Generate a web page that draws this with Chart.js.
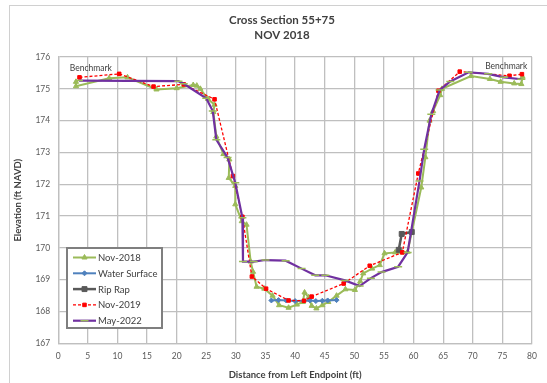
<!DOCTYPE html>
<html>
<head>
<meta charset="utf-8">
<script src="https://cdn.jsdelivr.net/npm/chart.js@4/dist/chart.umd.min.js"></script>
<style>
  html, body { margin: 0; padding: 0; background: #fff; overflow: hidden; }
  #wrap { position: relative; width: 547px; height: 383px; }
</style>
</head>
<body>
<div id="wrap"><canvas id="chart" width="547" height="383"></canvas></div>
<script>
const titleLines = ["Cross Section 55+75", "NOV 2018"];
const xTitle = "Distance from Left Endpoint (ft)";
const yTitle = "Elevation (ft NAVD)";
const xRange = [0, 80, 5];
const yRange = [167, 176, 1];

const seriesNames = ["Nov-2018", "Water Surface", "Rip Rap", "Nov-2019", "May-2022"];

// [distance ft, elevation ft]
const nov2018 = [
  [3.0, 175.22], [3.0, 175.08], [8.6, 175.33], [11.7, 175.36], [16.6, 174.98], [20.0, 175.02],
  [22.8, 175.12], [23.4, 175.1], [24.0, 175.0], [25.3, 174.68], [26.4, 174.5], [26.2, 174.27],
  [26.7, 173.5], [27.9, 172.95], [28.9, 172.78], [28.8, 172.2], [29.9, 171.95], [29.9, 171.37],
  [31.0, 170.84], [31.8, 170.73], [32.5, 169.57], [32.9, 169.25], [33.5, 168.78], [34.8, 168.72],
  [36.2, 168.5], [37.3, 168.2], [38.9, 168.12], [40.3, 168.22], [41.3, 168.3], [41.6, 168.6],
  [42.3, 168.45], [42.8, 168.18], [43.6, 168.1], [44.6, 168.2], [45.6, 168.3], [47.0, 168.5],
  [48.5, 168.7], [50.1, 168.68], [51.0, 168.95], [51.5, 169.2], [53.0, 169.35], [54.3, 169.46],
  [55.1, 169.83], [56.9, 169.86], [58.1, 169.86], [59.0, 169.88], [61.3, 171.9], [62.0, 172.85],
  [62.7, 174.0], [63.3, 174.3], [64.5, 174.8], [64.8, 175.0], [69.7, 175.4], [72.9, 175.31],
  [74.7, 175.22], [77.0, 175.17], [78.2, 175.15], [78.4, 175.38]
];
const waterSurface = [
  [36.0, 168.35], [37.2, 168.36], [38.5, 168.35], [40.0, 168.33], [42.5, 168.35],
  [43.5, 168.33], [44.6, 168.34], [45.5, 168.35], [47.0, 168.36]
];
const ripRap = [[57.5, 169.94], [58.0, 170.44], [59.7, 170.5]];
const nov2019 = [
  [3.6, 175.36], [10.3, 175.47], [16.1, 175.07], [21.2, 175.14], [26.4, 174.67], [29.5, 172.26],
  [31.1, 170.98], [32.7, 169.1], [35.1, 168.72], [38.9, 168.35], [41.5, 168.34], [42.8, 168.47],
  [48.2, 168.88], [52.6, 169.44], [58.1, 169.86], [60.8, 172.34], [64.2, 174.94], [67.8, 175.54],
  [76.2, 175.41], [78.3, 175.46]
];
const may2022 = [
  [3.5, 175.26], [20.3, 175.24], [21.2, 175.16], [25.0, 174.7], [26.1, 174.3], [26.7, 173.4],
  [28.6, 172.84], [29.9, 172.05], [31.1, 170.95], [31.2, 169.57], [33.0, 169.57], [35.0, 169.62],
  [38.4, 169.6], [41.1, 169.35], [43.4, 169.14], [45.1, 169.14], [48.4, 168.98], [50.9, 168.8],
  [52.8, 169.05], [54.6, 169.24], [57.4, 169.41], [59.0, 169.86], [61.0, 172.1], [61.8, 173.1],
  [63.0, 174.2], [64.4, 174.96], [66.2, 175.23], [69.3, 175.52], [72.6, 175.47], [75.3, 175.36],
  [78.2, 175.3]
];

const benchmarkText = "Benchmark";
const benchmarkAt = [[5.5, 175.65], [75.65, 175.71]];

const FONT = "Lato, 'Open Sans', sans-serif";
const pts = arr => arr.map(([x, y]) => ({ x, y }));

const styles = [
  { color: "#9bbb59", width: 2, point: "triangle", radius: 3, pointColor: "#9bbb59" },
  { color: "#4f81bd", width: 2, point: "rectRot", radius: 2.5, pointColor: "#4f81bd" },
  { color: "#595959", width: 2.5, point: "rect", radius: 3.5, pointColor: "#595959" },
  { color: "#ff0000", width: 1.3, point: "rect", radius: 2.5, pointColor: "#ff0000", dash: [3, 2] },
  { color: "#7030a0", width: 2.2, point: "line", radius: 4, pointColor: "#9bbb59" }
];
const seriesData = [nov2018, waterSurface, ripRap, nov2019, may2022];

const overlay = {
  id: "overlay",
  beforeDraw(chart) {
    const ctx = chart.ctx;
    ctx.save();
    ctx.strokeStyle = "#d0d0d0";
    ctx.lineWidth = 1;
    ctx.strokeRect(9.5, 5.5, 560, 400);
    ctx.restore();
  },
  afterDraw(chart) {
    const ctx = chart.ctx;
    const { x, y } = chart.scales;
    ctx.save();
    ctx.fillStyle = "#404040";
    ctx.textAlign = "center";
    ctx.textBaseline = "middle";
    ctx.font = "bold 11.5px " + FONT;
    ctx.fillText(titleLines[0], 282, 20);
    ctx.fillText(titleLines[1], 282, 35);

    ctx.font = "8.5px " + FONT;
    ctx.fillStyle = "#404040";
    benchmarkAt.forEach(([bx, by]) => {
      ctx.fillText(benchmarkText, x.getPixelForValue(bx), y.getPixelForValue(by));
    });

    // legend box
    const lx = 67, ly = 248, lw = 95, lh = 80;
    ctx.fillStyle = "#fff";
    ctx.fillRect(lx, ly, lw, lh);
    ctx.strokeStyle = "#7f7f7f";
    ctx.lineWidth = 2;
    ctx.strokeRect(lx, ly, lw, lh);
    ctx.textAlign = "left";
    ctx.font = "9.5px " + FONT;
    seriesNames.forEach((name, i) => {
      const s = styles[i];
      const cy = 257.5 + i * 15.8;
      ctx.save();
      ctx.strokeStyle = s.color;
      ctx.lineWidth = s.width;
      ctx.setLineDash(s.dash || []);
      ctx.beginPath();
      ctx.moveTo(73, cy);
      ctx.lineTo(96, cy);
      ctx.stroke();
      ctx.setLineDash([]);
      ctx.fillStyle = s.pointColor;
      ctx.strokeStyle = s.pointColor;
      ctx.lineWidth = s.point === "line" ? 1.5 : 1;
      Chart.helpers.drawPoint(ctx, { pointStyle: s.point, radius: s.radius, rotation: 0, borderWidth: ctx.lineWidth }, 84.5, cy);
      ctx.restore();
      ctx.fillStyle = "#404040";
      ctx.fillText(name, 98, cy + 0.5);
    });
    ctx.restore();
  }
};

new Chart(document.getElementById("chart"), {
  type: "line",
  data: {
    datasets: seriesNames.map((name, i) => ({
      label: name,
      data: pts(seriesData[i]),
      borderColor: styles[i].color,
      backgroundColor: styles[i].pointColor,
      borderWidth: styles[i].width,
      borderDash: styles[i].dash || [],
      pointStyle: styles[i].point,
      pointRadius: styles[i].radius,
      pointBackgroundColor: styles[i].pointColor,
      pointBorderColor: styles[i].pointColor,
      pointBorderWidth: styles[i].point === "line" ? 1.5 : 1,
      tension: 0,
      fill: false,
      order: seriesNames.length - i
    }))
  },
  options: {
    responsive: false,
    devicePixelRatio: 1,
    animation: false,
    layout: { padding: { left: 12, right: 15, top: 57, bottom: 2 } },
    plugins: {
      legend: { display: false },
      title: { display: false },
      tooltip: { enabled: false }
    },
    scales: {
      x: {
        type: "linear",
        min: xRange[0], max: xRange[1],
        ticks: { stepSize: xRange[2], color: "#595959", font: { family: FONT, size: 8.5 }, padding: 8, maxRotation: 0 },
        grid: { color: "#bfbfbf", lineWidth: 1.3, drawTicks: false },
        border: { color: "#bfbfbf", width: 1.3 },
        title: { display: true, text: xTitle, color: "#404040", font: { family: FONT, size: 9.5, weight: "bold" }, padding: { top: 0, bottom: 0 } }
      },
      y: {
        min: yRange[0], max: yRange[1],
        ticks: { stepSize: yRange[2], color: "#595959", font: { family: FONT, size: 8.5 }, padding: 8 },
        grid: { color: "#bfbfbf", lineWidth: 1.3, drawTicks: false },
        border: { color: "#bfbfbf", width: 1.3 },
        title: { display: true, text: yTitle, color: "#404040", font: { family: FONT, size: 9.5, weight: "bold" }, padding: { top: 0, bottom: 4 } }
      }
    }
  },
  plugins: [overlay]
});
</script>
</body>
</html>
